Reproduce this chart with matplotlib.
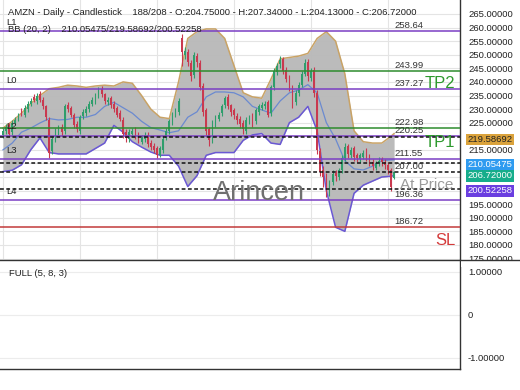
import matplotlib
matplotlib.use('Agg')
import matplotlib.pyplot as plt
from matplotlib.patches import Rectangle
from matplotlib.lines import Line2D
import numpy as np

plt.rcParams['font.family'] = ['Liberation Sans', 'DejaVu Sans']

# ---------------- data ----------------
opens = [220.5, 222, 224, 221.5, 225, 226.5, 229.5, 228, 230, 232,
         234.5, 233, 235.5, 233.5, 231, 226, 214.5, 219, 221.5, 223.5,
         222, 231.5, 230.5, 228, 224.5, 222, 227.5, 228.5, 230, 232,
         233, 235, 237.5, 235.5, 232.5, 234, 232, 230.5, 228.5, 226,
         221.5, 219, 221, 222.5, 220.5, 218, 219, 220.5, 217.5, 216.5,
         215.5, 213, 215, 219.5, 222, 225, 228, 229, 256, 250,
         251, 247, 242.5, 249.5, 247, 238.5, 229.5, 222.5, 219, 224.5,
         226.5, 228.5, 231.5, 234.5, 231.5, 229.5, 227.5, 226.5, 225, 222,
         225.5, 227.5, 225.5, 229, 230.5, 231, 232.5, 228.5, 238, 243.5,
         246.5, 248.5, 244.5, 241.5, 238.5, 232.5, 236, 239, 243, 247.5,
         241.5, 244.5, 236, 214.5, 207.5, 205.5, 199.5, 203, 206.5, 205,
         207.5, 212, 216.5, 213, 215.5, 213, 211.5, 212.5, 214.5, 212.5,
         210.5, 208.5, 210, 211.5, 210.5, 209.5, 207.5, 204.75]
closes = [222, 223.5, 221, 225, 226, 227.5, 228.5, 230.5, 232, 233,
          233.5, 235, 233.5, 231, 227, 214, 219, 222, 223, 221.5,
          231, 230, 228, 224, 222.5, 227, 229, 230, 232, 233.5,
          235, 237, 235.5, 233, 233.5, 231.5, 230, 228, 226.5, 221,
          219.5, 221.5, 222, 220, 218.5, 219.5, 220.5, 217, 216, 215,
          213, 215.5, 219, 222, 225.5, 228, 229.5, 233, 251, 251.5,
          247.5, 242, 250, 247.5, 238, 229, 222, 218.5, 225, 227,
          228, 231, 234, 231, 229, 228, 226, 224.5, 222.5, 226,
          227, 225, 229.5, 231, 231.5, 232, 228, 238, 244, 246,
          248, 244, 241, 238, 232, 236, 239, 243, 247, 242,
          244, 236, 215, 207, 205, 199, 203, 206, 205.5, 207.5,
          212, 216, 213.5, 215, 212.5, 212, 213, 214, 212.5, 210.5,
          209, 210, 211, 210.5, 209.5, 207.5, 201.5, 206.72]
highs = [223, 224.5, 225, 226, 227, 228.5, 230.5, 231.5, 233, 234,
         235.5, 236, 236.5, 234.5, 231.5, 227, 220, 223, 224, 224.5,
         232, 232.5, 231, 228.5, 225.5, 228, 230, 231, 233, 234.5,
         236, 238, 238.5, 236, 234.5, 235, 233, 231, 229.5, 227,
         222.5, 222.5, 223, 223.5, 221.5, 220.5, 221.5, 221.5, 218.5, 217.5,
         216.5, 216.5, 220, 223, 226.5, 229, 230.5, 234, 257.5, 253,
         252, 248, 251, 250.5, 248, 239.5, 230.5, 223.5, 226, 228,
         229, 232, 235, 235.5, 232, 230.5, 228.5, 227.5, 226, 227,
         228, 228.5, 230.5, 232, 232.5, 233, 233.5, 239, 245, 247,
         249.5, 249, 245.5, 242.5, 239, 237, 240, 244, 248.5, 248.5,
         245, 245.5, 237, 215.5, 209, 206.5, 204, 207.5, 207.5, 208.5,
         213, 217.5, 217, 216, 216.5, 214, 214, 215, 215.5, 213.5,
         211.5, 211, 212.5, 212.5, 211.5, 210.5, 208.5, 207.34]
lows = [219.5, 221, 220, 220.5, 224, 225.5, 227.5, 227, 229, 231,
        232.5, 232, 232.5, 230, 226, 212, 213.5, 218, 220.5, 220,
        221, 229, 227, 223, 221.5, 221, 226.5, 227.5, 229, 231,
        232, 234, 234.5, 232, 231.5, 230.5, 229, 227, 225.5, 219.5,
        218, 218, 220, 219, 217.5, 217, 218, 216, 215, 214,
        212, 212.5, 214, 218.5, 221, 224, 227, 228, 246, 248.5,
        246, 240.5, 241.5, 245.5, 237, 227.5, 220.5, 216.5, 217.5, 223.5,
        225.5, 227.5, 230.5, 230, 227.5, 226.5, 224.5, 223, 221, 221,
        224.5, 223.5, 224.5, 228, 229.5, 230, 227, 227.5, 237, 242.5,
        245, 243, 240, 236.5, 230.5, 231.5, 235, 238, 242, 240.5,
        240.5, 234.5, 213.5, 205.5, 201.5, 197.5, 198, 202, 203.5, 204,
        206.5, 211, 212, 212, 211, 210.5, 210, 211.5, 211, 209,
        207.5, 207.5, 209, 209, 208, 206, 200, 204.13]

bb_idx = list(range(0, 127, 3)) + [127]
bb_upper = [223, 225.5, 228.5, 232, 235, 237.5, 238, 238.8, 238.5, 238,
            238.5, 238.8, 238.5, 240, 239.5, 235, 230, 227, 226.5, 240,
            256, 258.5, 259.5, 259.5, 256, 246, 236, 234.5, 234, 241,
            248.5, 249, 249.5, 250.5, 256, 258.5, 255, 243, 222, 218,
            217.5, 217.5, 220, 221]
bb_mid = [215, 217.5, 221.5, 223, 224.9, 226.5, 226, 226.2, 227, 227,
          228, 231, 232.5, 230.5, 228.5, 225.5, 223.2, 222.3, 221.3, 222,
          227, 229, 234.5, 236.3, 236.3, 236, 234.5, 231, 229.7, 228.5,
          233, 236, 237, 239, 236, 225, 219, 211, 208, 207.6,
          209, 211, 211.3, 211.3]
bb_lower = [207, 207.5, 209.5, 215, 219.4, 214, 213.5, 213.5, 213.5, 213.5,
            215.5, 217.5, 224, 221.5, 218, 216, 214.2, 213, 213, 209,
            201.5, 205.5, 213, 214, 214, 214, 218.5, 220.5, 221, 217.5,
            217, 225, 227, 231, 222, 200, 186.5, 185, 199, 202,
            203.5, 205, 205.3, 205.5]

level_values = [258.64, 243.99, 237.27, 222.98, 220.25, 211.55, 207.00, 196.36, 186.72]
level_kinds = ['L', 'TP', 'L', 'TP', 'L', 'L', 'E', 'L', 'SL']
level_names = {258.64: 'L1', 237.27: 'L0', 220.25: 'L2', 211.55: 'L3', 196.36: 'L4'}
indicator_lines = [219.58692, 210.05475, 200.52258]
tag_values = [219.58692, 210.05475, 206.72000, 200.52258]
tag_colors = ['#dba33c', '#2f9bf0', '#16ad8b', '#6a3ee0']
tag_text_colors = ['#222222', 'white', 'white', 'white']
price_ticks = list(range(175, 266, 5))
hidden_ticks = [200, 205, 210, 220]   # covered by the price tags
osc_ticks = [1, 0, -1]
osc_labels = ['1.00000', '0', '-1.00000']

header1 = "AMZN - Daily - Candlestick    188/208 - O:204.75000 - H:207.34000 - L:204.13000 - C:206.72000"
header2 = "BB (20, 2)    210.05475/219.58692/200.52258"

# ---------------- figure ----------------
W, H = 520, 390
fig = plt.figure(figsize=(5.2, 3.9), dpi=100)
fig.patch.set_facecolor('white')

ax = fig.add_axes([0, 1 - 260 / H, 460 / W, 260 / H])
ax2 = fig.add_axes([0, 1 - 369 / H, 460 / W, 109 / H])

x = np.arange(len(closes))
xl = (-0.974, 148.4)

ax.set_xlim(*xl)
ax.set_ylim(174.46, 270.15)
ax.set_yticks(price_ticks)
ax.set_yticklabels(['' if v in hidden_ticks else f"{v:.5f}" for v in price_ticks])
ax.yaxis.tick_right()
ax.tick_params(axis='y', length=0, pad=5.8, labelsize=6.8, labelcolor='#222222')
ax.set_xticks([0, 25, 50, 75, 100, 125])
ax.set_xticklabels([])
ax.tick_params(axis='x', length=0)
ax.grid(True, color='#e4e4e4', lw=0.8)
ax.set_axisbelow(True)
for s in ['top', 'left', 'bottom']:
    ax.spines[s].set_visible(False)
ax.spines['right'].set_color('#333333')
ax.spines['right'].set_linewidth(1.0)

# Bollinger bands
ax.fill_between(bb_idx, bb_lower, bb_upper, color='#b8b8b8', alpha=0.95, lw=0, zorder=1)
ax.plot(bb_idx, bb_upper, color='#c9a366', lw=1.1, zorder=2)
ax.plot(bb_idx, bb_mid, color='#6b8ad0', lw=0.9, zorder=2)
ax.plot(bb_idx, bb_lower, color='#6a58d4', lw=1.1, zorder=2)

# candles
o = np.array(opens); c = np.array(closes)
up = c >= o
cols = np.where(up, '#2f9e6c', '#c9394f')
ax.vlines(x, lows, highs, colors=cols, lw=0.8, zorder=2.5)
ax.bar(x, np.maximum(np.abs(c - o), 0.25), bottom=np.minimum(o, c), width=0.55,
       color=cols, lw=0, zorder=2.6)

# level lines
kind_color = {'L': '#7b3fc4', 'TP': '#2e8b2e', 'SL': '#c23a3a', 'E': '#111111'}
for v, k in zip(level_values, level_kinds):
    if k == 'E':
        ax.axhline(v, color='#111111', lw=1.1, ls=(0, (2.5, 1.6)), zorder=3.2)
    else:
        ax.axhline(v, color=kind_color[k], lw=1.1, zorder=3)
    ax.annotate(f"{v:.2f}", xy=(394.5 / 460, v), xycoords=('axes fraction', 'data'),
                xytext=(0, 4.0), textcoords='offset points', ha='left', va='center',
                fontsize=6.8, color='#333333', zorder=5)
    if v in level_names:
        ax.annotate(level_names[v], xy=(6 / 460, v), xycoords=('axes fraction', 'data'),
                    xytext=(0, 6.6), textcoords='offset points', ha='left', va='center',
                    fontsize=6.8, color='#222222', zorder=5)
for v in indicator_lines:
    ax.axhline(v, color='#111111', lw=1.1, ls=(0, (2.5, 1.6)), zorder=3.2)

# price tags on the right axis
tag_off = [-1.5, -1.0, -2.6, -1.2]
for v, fc, tc, off in zip(tag_values, tag_colors, tag_text_colors, tag_off):
    ax.annotate(f"{v:.5f}", xy=(1, v), xycoords=('axes fraction', 'data'),
                xytext=(5.4, off), textcoords='offset points', ha='left', va='center',
                fontsize=6.8, color=tc, annotation_clip=False, zorder=8,
                bbox=dict(boxstyle='square,pad=0.15', fc=fc, ec='none'))

# watermark & big labels
ax.text(259 / 460, 1 - 193 / 260, 'Arincen', transform=ax.transAxes, fontsize=19.5,
        color='#707070', ha='center', va='center', zorder=6)

def ftext(px, py, s, **kw):
    fig.text(px / W, 1 - py / H, s, ha='left', va='center', **kw)

ftext(425, 84, 'TP2', fontsize=12, color='#2e9a2e')
ftext(425, 142, 'TP1', fontsize=12, color='#2e9a2e')
ftext(400, 185, 'At Price', fontsize=11, color='#9a9a9a')
ftext(435, 240.5, 'SL', fontsize=12, color='#d43a3a')
ftext(8, 12.7, header1, fontsize=6.8, color='#222222')
ftext(8, 30, header2, fontsize=6.8, color='#222222')

# ---------------- oscillator panel ----------------
ax2.set_xlim(*xl)
ax2.set_ylim(-1.26, 1.27)
ax2.set_yticks(osc_ticks)
ax2.set_yticklabels(osc_labels)
ax2.yaxis.tick_right()
ax2.tick_params(axis='y', length=0, pad=5.8, labelsize=6.8, labelcolor='#222222')
ax2.set_xticks([])
ax2.grid(True, axis='y', color='#ececec', lw=0.8)
for s in ['top', 'left']:
    ax2.spines[s].set_visible(False)
for s in ['right', 'bottom']:
    ax2.spines[s].set_color('#333333')
    ax2.spines[s].set_linewidth(1.0)
ax2.text(9 / 460, (369 - 273.3) / 109, 'FULL (5, 8, 3)', transform=ax2.transAxes,
         fontsize=6.8, color='#222222', ha='left', va='center')

# separator line across full width, small mask for clipped label
fig.add_artist(Rectangle((461 / W, 1 - 266.5 / H), 59 / W, 6 / H, transform=fig.transFigure,
                         fc='white', ec='none', zorder=3))
fig.add_artist(Line2D([0, 1], [1 - 260 / H] * 2, transform=fig.transFigure,
                      color='#333333', lw=1.0, zorder=4))

fig.savefig('out.png', dpi=100, facecolor='white')
